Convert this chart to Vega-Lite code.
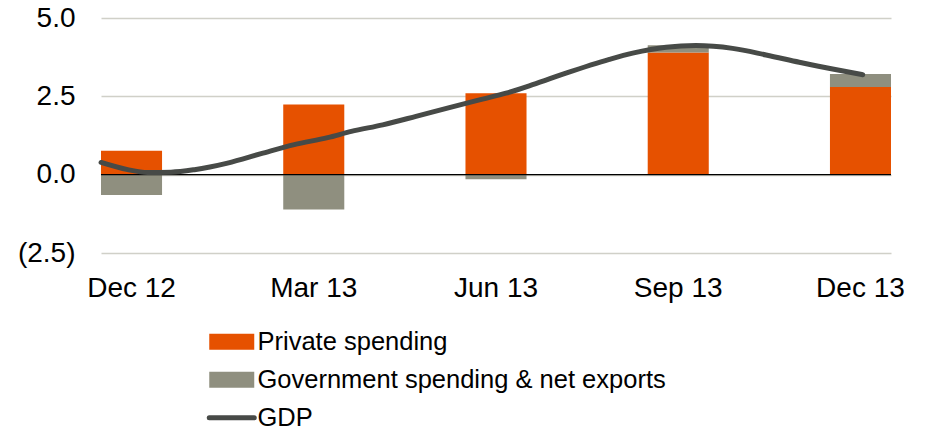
{
  "$schema": "https://vega.github.io/schema/vega-lite/v6.json",
  "width": 790,
  "height": 235,
  "autosize": {"type": "none"},
  "padding": {"left": 101, "top": 18, "right": 35, "bottom": 177},
  "background": "white",
  "config": {"view": {"stroke": null}, "font": "Liberation Sans"},
  "datasets": {
    "bars": [
      {"quarter": "Dec 12", "series": "Private spending", "value": 0.76},
      {"quarter": "Dec 12", "series": "Government spending & net exports", "value": -0.65},
      {"quarter": "Mar 13", "series": "Private spending", "value": 2.24},
      {"quarter": "Mar 13", "series": "Government spending & net exports", "value": -1.11},
      {"quarter": "Jun 13", "series": "Private spending", "value": 2.6},
      {"quarter": "Jun 13", "series": "Government spending & net exports", "value": -0.15},
      {"quarter": "Sep 13", "series": "Private spending", "value": 3.9},
      {"quarter": "Sep 13", "series": "Government spending & net exports", "value": 0.23},
      {"quarter": "Dec 13", "series": "Private spending", "value": 2.8},
      {"quarter": "Dec 13", "series": "Government spending & net exports", "value": 0.41}
    ],
    "gdp": [
      {"t": -0.167, "gdp": 0.39},
      {"t": -0.021, "gdp": 0.16},
      {"t": 0.088, "gdp": 0.07},
      {"t": 0.217, "gdp": 0.08},
      {"t": 0.345, "gdp": 0.16},
      {"t": 0.527, "gdp": 0.37},
      {"t": 0.711, "gdp": 0.67},
      {"t": 0.893, "gdp": 0.96},
      {"t": 1.076, "gdp": 1.18},
      {"t": 1.206, "gdp": 1.38},
      {"t": 1.378, "gdp": 1.59},
      {"t": 1.561, "gdp": 1.86},
      {"t": 1.744, "gdp": 2.14},
      {"t": 1.926, "gdp": 2.41},
      {"t": 2.055, "gdp": 2.6},
      {"t": 2.201, "gdp": 2.87},
      {"t": 2.384, "gdp": 3.24},
      {"t": 2.622, "gdp": 3.68},
      {"t": 2.75, "gdp": 3.88},
      {"t": 2.933, "gdp": 4.07},
      {"t": 3.097, "gdp": 4.12},
      {"t": 3.298, "gdp": 4.03},
      {"t": 3.482, "gdp": 3.82},
      {"t": 3.664, "gdp": 3.59},
      {"t": 3.847, "gdp": 3.37},
      {"t": 4.012, "gdp": 3.19}
    ]
  },
  "layer": [
    {
      "data": {"name": "bars"},
      "mark": {"type": "bar"},
      "encoding": {
        "x": {
          "field": "quarter", "type": "nominal",
          "sort": ["Dec 12", "Mar 13", "Jun 13", "Sep 13", "Dec 13"],
          "scale": {"paddingInner": 0.665, "paddingOuter": 0},
          "axis": {"title": null, "labelAngle": 0, "labelFontSize": 28, "labelColor": "black", "labelPadding": 21, "ticks": false, "domain": false, "grid": false}
        },
        "y": {
          "field": "value", "type": "quantitative", "stack": "zero",
          "scale": {"domain": [-2.5, 5], "nice": false},
          "axis": {"title": null, "values": [-2.5, 0, 2.5, 5],
            "labelExpr": "datum.value < 0 ? '(' + format(-datum.value, '.1f') + ')' : format(datum.value, '.1f')",
            "labelFontSize": 28, "labelColor": "black", "labelPadding": 26, "ticks": false, "domain": false,
            "gridColor": "#d0d0c8", "gridWidth": 1.3}
        },
        "color": {
          "field": "series", "type": "nominal",
          "scale": {"domain": ["Private spending", "Government spending & net exports", "GDP"], "range": ["#e65100", "#8f8f7f", "#474a47"]},
          "legend": {
            "orient": "none", "legendX": 118, "legendY": 311, "direction": "vertical", "title": null,
            "labelFontSize": 25.5, "labelColor": "black", "symbolSize": 2025, "labelOffset": 13, "rowPadding": 11,
            "padding": 0, "labelLimit": 0,
            "encode": {"symbols": {"update": {
              "shape": {"signal": "datum.value === 'GDP' ? 'stroke' : 'M-1,-0.356H1V0.356H-1Z'"},
              "strokeWidth": {"signal": "datum.value === 'GDP' ? 5 : 0"},
              "fill": {"scale": "color", "field": "value"},
              "stroke": {"scale": "color", "field": "value"},
              "opacity": {"value": 1},
              "strokeCap": {"value": "round"}
            }}}
          }
        },
        "order": {"field": "series", "sort": "descending"}
      }
    },
    {
      "data": {"values": [{}]},
      "mark": {"type": "rule", "color": "black", "strokeWidth": 1.2},
      "encoding": {"y": {"datum": 0}}
    },
    {
      "data": {"name": "gdp"},
      "mark": {"type": "line", "interpolate": "monotone", "strokeWidth": 5, "strokeCap": "round"},
      "encoding": {
        "x": {"field": "t", "type": "quantitative", "scale": {"domain": [-0.1674, 4.1674], "nice": false, "zero": false}, "axis": null},
        "y": {"field": "gdp", "type": "quantitative"},
        "color": {"datum": "GDP"}
      }
    }
  ],
  "resolve": {"scale": {"x": "independent"}}
}
